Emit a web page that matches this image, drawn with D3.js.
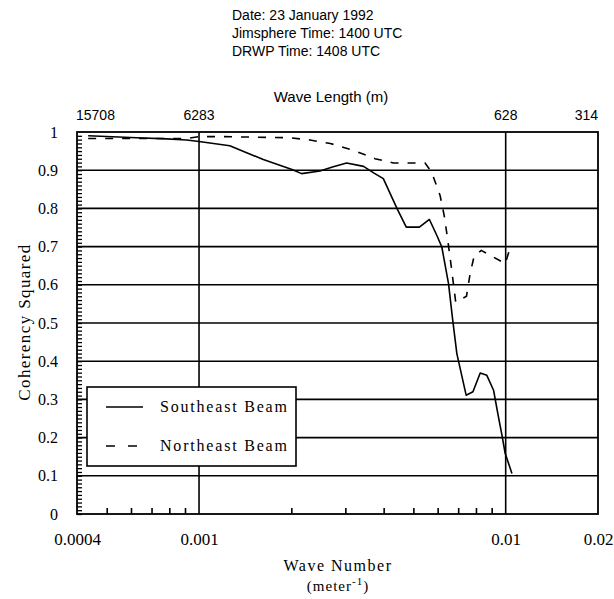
<!DOCTYPE html>
<html>
<head>
<meta charset="utf-8">
<script src="https://cdn.jsdelivr.net/npm/d3@7"></script>
<style>
  body { margin: 0; background: #fff; }
  svg { display: block; }
</style>
</head>
<body>
<svg id="chart" width="614" height="599"></svg>
<script>
// ---- data ----
const titleLines = ["Date: 23 January 1992", "Jimsphere Time: 1400 UTC", "DRWP Time: 1408 UTC"];
const seK   = [0.000435, 0.000626, 0.000785, 0.000912, 0.001, 0.00126, 0.00162, 0.00201, 0.00216, 0.00248, 0.00274, 0.00303, 0.00344, 0.00371, 0.00399, 0.00442, 0.00474, 0.00523, 0.00564, 0.00598, 0.00619, 0.00651, 0.00672, 0.00693, 0.00743, 0.00782, 0.00826, 0.00868, 0.00913, 0.00947, 0.00972, 0.00996, 0.01048];
const seCoh = [0.990, 0.985, 0.982, 0.979, 0.975, 0.964, 0.928, 0.902, 0.891, 0.898, 0.909, 0.919, 0.910, 0.893, 0.878, 0.800, 0.751, 0.751, 0.771, 0.727, 0.699, 0.603, 0.507, 0.420, 0.311, 0.320, 0.369, 0.363, 0.324, 0.254, 0.207, 0.159, 0.106];
const neK   = [0.000435, 0.000912, 0.001, 0.00117, 0.00198, 0.0023, 0.00268, 0.00319, 0.00375, 0.0043, 0.00546, 0.00574, 0.00611, 0.0063, 0.00644, 0.00664, 0.00687, 0.00745, 0.00766, 0.00789, 0.00832, 0.00959, 0.00996, 0.01042];
const neCoh = [0.983, 0.983, 0.988, 0.988, 0.985, 0.979, 0.970, 0.952, 0.930, 0.919, 0.919, 0.894, 0.834, 0.782, 0.730, 0.650, 0.555, 0.570, 0.630, 0.675, 0.690, 0.663, 0.655, 0.705];
const yTicks = [0, 0.1, 0.2, 0.3, 0.4, 0.5, 0.6, 0.7, 0.8, 0.9, 1];
const yMinor = d3.range(0, 100).map(i => i / 100);
const xTickLabels = [0.0004, 0.001, 0.01, 0.02];
const xGrid = [0.001, 0.01];
const xMinor = [0.0005, 0.0006, 0.0007, 0.0008, 0.0009, 0.002, 0.003, 0.004, 0.005, 0.006, 0.007, 0.008, 0.009];
const topWaveLengths = [15708, 6283, 628, 314];
const seriesNames = ["Southeast Beam", "Northeast Beam"];

// ---- layout ----
const svg = d3.select("#chart");
const L = 77, R = 598, T = 132, B = 514;
const x = d3.scaleLog().domain([0.0004, 0.02]).range([L, R]);
const y = d3.scaleLinear().domain([0, 1]).range([B, T]);
const serif = "'Liberation Serif', 'Times New Roman', serif";
const sans = "'Liberation Sans', Arial, sans-serif";

// title
svg.append("g").selectAll("text").data(titleLines).join("text")
  .attr("x", 232).attr("y", (d, i) => 20 + i * 18)
  .attr("font-family", sans).attr("font-size", 14).attr("fill", "#000")
  .text(d => d);

svg.append("text").attr("x", 331).attr("y", 102).attr("text-anchor", "middle")
  .attr("font-family", sans).attr("font-size", 15).text("Wave Length (m)");

// top tick labels (wavelength = 2*pi / k)
svg.append("g").selectAll("text").data(topWaveLengths).join("text")
  .attr("x", d => x(2 * Math.PI / d))
  .attr("y", 120)
  .attr("text-anchor", (d, i) => i === 0 ? "start" : (i === topWaveLengths.length - 1 ? "end" : "middle"))
  .attr("dx", (d, i) => i === 0 ? -1 : 0)
  .attr("font-family", sans).attr("font-size", 14).text(d => d);

// grid lines
const grid = svg.append("g").attr("stroke", "#000").attr("stroke-width", 1.6);
grid.selectAll("line.h").data(yTicks.filter(d => d > 0 && d < 1)).join("line")
  .attr("class", "h").attr("x1", L).attr("x2", R).attr("y1", d => y(d)).attr("y2", d => y(d));
grid.selectAll("line.v").data(xGrid).join("line")
  .attr("class", "v").attr("x1", d => x(d)).attr("x2", d => x(d)).attr("y1", T).attr("y2", B);

// minor ticks: left (inward)
svg.append("g").attr("transform", `translate(${L},0)`)
  .call(d3.axisRight(y).tickValues(yMinor).tickSize(5).tickFormat(""))
  .call(g => g.select(".domain").remove())
  .call(g => g.selectAll("line").attr("stroke-width", 1.3));

// minor ticks: bottom (inward)
svg.append("g").attr("transform", `translate(0,${B})`)
  .call(d3.axisTop(x).tickValues(xMinor).tickSize(6).tickFormat(""))
  .call(g => g.select(".domain").remove())
  .call(g => g.selectAll("line").attr("stroke-width", 1.6));

// frame
svg.append("rect").attr("x", L).attr("y", T).attr("width", R - L).attr("height", B - T)
  .attr("fill", "none").attr("stroke", "#000").attr("stroke-width", 1.8);

// y tick labels
svg.append("g").attr("transform", `translate(${L},0)`)
  .call(d3.axisLeft(y).tickValues(yTicks).tickSize(0).tickPadding(19).tickFormat(d3.format("")))
  .call(g => g.select(".domain").remove())
  .call(g => g.selectAll("text").attr("font-family", serif).attr("font-size", 16).attr("fill", "#000"));

// x tick labels
svg.append("g").attr("transform", `translate(0,${B})`)
  .call(d3.axisBottom(x).tickValues(xTickLabels).tickSize(0).tickPadding(19).tickFormat(d => String(d)))
  .call(g => g.select(".domain").remove())
  .call(g => g.selectAll("text").attr("font-family", serif).attr("font-size", 17).attr("fill", "#000"));

// axis titles
svg.append("text").attr("transform", "translate(30,322) rotate(-90)").attr("text-anchor", "middle")
  .attr("font-family", serif).attr("font-size", 17).attr("letter-spacing", 1.4).text("Coherency Squared");
svg.append("text").attr("x", 338).attr("y", 571).attr("text-anchor", "middle")
  .attr("font-family", serif).attr("font-size", 16).attr("letter-spacing", 1.5).text("Wave Number");
const unit = svg.append("text").attr("x", 338).attr("y", 591).attr("text-anchor", "middle")
  .attr("font-family", serif).attr("font-size", 15).attr("letter-spacing", 1);
unit.append("tspan").text("(meter");
unit.append("tspan").attr("dy", -6).attr("font-size", 11).text("-1");
unit.append("tspan").attr("dy", 6).text(")");

// lines
const line = d3.line().x(d => x(d[0])).y(d => y(d[1]));
svg.append("path").datum(d3.zip(seK, seCoh)).attr("d", line)
  .attr("fill", "none").attr("stroke", "#000").attr("stroke-width", 1.6).attr("stroke-linejoin", "round");
svg.append("path").datum(d3.zip(neK, neCoh)).attr("d", line)
  .attr("fill", "none").attr("stroke", "#000").attr("stroke-width", 1.6).attr("stroke-dasharray", "8,9");

// legend
const lg = svg.append("g");
lg.append("rect").attr("x", 87).attr("y", 387).attr("width", 209).attr("height", 79)
  .attr("fill", "#fff").attr("stroke", "#000").attr("stroke-width", 1.6);
const dashes = [null, "9,13"];
seriesNames.forEach((name, i) => {
  const yy = 407 + i * 39;
  lg.append("line").attr("x1", 106).attr("x2", 143).attr("y1", yy).attr("y2", yy)
    .attr("stroke", "#000").attr("stroke-width", 1.5).attr("stroke-dasharray", dashes[i]);
  lg.append("text").attr("x", 160).attr("y", yy + 5).attr("font-family", serif)
    .attr("font-size", 16).attr("letter-spacing", 1.8).text(name);
});
</script>
</body>
</html>
